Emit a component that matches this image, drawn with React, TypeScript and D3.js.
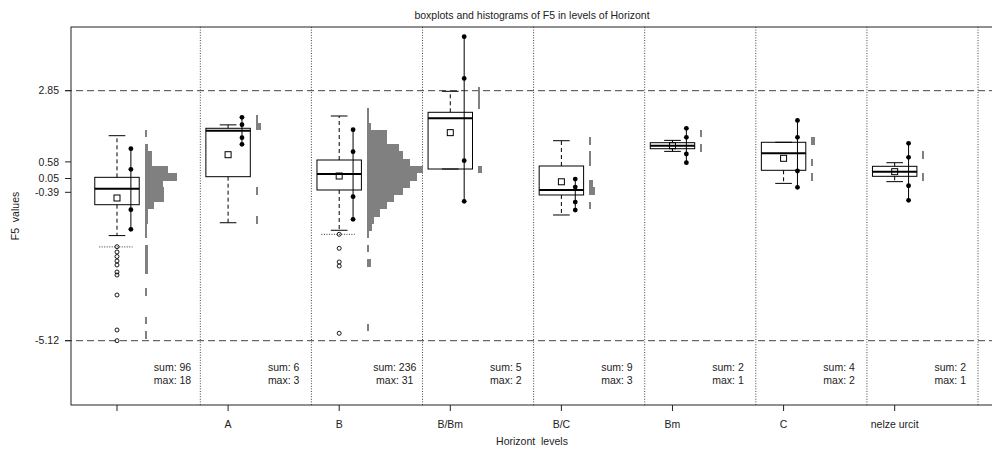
import React from 'react';
import * as d3 from 'd3';

const categories = ["", "A", "B", "B/Bm", "B/C", "Bm", "C", "nelze urcit"];
const lowerWhisker = [-1.77, -1.36, -1.6, 0.353, -1.113, 0.915, -0.105, -0.05];
const q1 = [-0.785, 0.108, -0.316, 0.353, -0.475, 1.0, 0.312, 0.12];
const medians = [-0.275, 1.574, 0.194, 1.97, -0.316, 1.096, 0.854, 0.268];
const q3 = [0.088, 1.651, 0.64, 2.161, 0.449, 1.192, 1.205, 0.439];
const upperWhisker = [1.415, 1.76, 2.043, 2.83, 1.255, 1.266, 1.205, 0.554];
const means = [-0.571, 0.809, 0.13, 1.512, -0.054, 1.096, 0.694, 0.268];
const lowerFence: (number | null)[] = [-2.13, null, -1.73, null, null, null, null, null];

const outliers0 = [-2.124, -2.293, -2.437, -2.58, -2.707, -2.93, -3.026, -3.663, -4.779, -5.12];
const outliersB = [-1.728, -2.175, -2.611, -2.739, -4.884];
const outliers = [outliers0, [], outliersB, [], [], [], [], []];

const dots0 = [1.0, 0.344, -0.944, -1.569];
const dotsA = [2.001, 1.766, 1.351, 1.14];
const dotsB = [1.606, 0.905, -0.53, -1.25];
const dotsBBm = [4.57, 3.24, 0.62, -0.677];
const dotsBC = [0.032, -0.223, -0.7, -0.956];
const dotsBm = [1.651, 1.364, 0.832, 0.554];
const dotsC = [1.902, 1.364, 0.29, -0.23];
const dotsN = [1.173, 0.727, -0.18, -0.645];
const dots = [dots0, dotsA, dotsB, dotsBBm, dotsBC, dotsBm, dotsC, dotsN];

// histogram: [bin index k (bin = [k*binWidth, (k+1)*binWidth]), count]
const binWidth = 0.229;
const hist0 = [[6, 1], [4, 2], [3, 4], [2, 4], [1, 13], [0, 18], [-1, 10], [-2, 11], [-3, 11], [-4, 5], [-5, 2], [-6, 2], [-7, 1], [-8, 1], [-10, 2], [-11, 2], [-12, 2], [-13, 2], [-16, 1], [-20, 1], [-22, 1]];
const histA = [[8, 1], [7, 3], [-2, 1], [-6, 1]];
const histB = [[9, 1], [8, 1], [7, 2], [6, 11], [5, 11], [4, 18], [3, 20], [2, 24], [1, 31], [0, 28], [-1, 24], [-2, 20], [-3, 15], [-4, 11], [-5, 7], [-6, 4], [-7, 3], [-8, 1], [-10, 1], [-12, 2], [-21, 1]];
const histBBm = [[12, 1], [11, 1], [10, 1], [1, 2]];
const histBC = [[5, 1], [3, 1], [2, 1], [-1, 2], [-2, 3], [-4, 1]];
const histBm = [[6, 1], [4, 1]];
const histC = [[5, 2], [2, 1], [0, 1]];
const histN = [[3, 1], [0, 1]];
const histograms = [hist0, histA, histB, histBBm, histBC, histBm, histC, histN];

const yTicks = [2.85, 0.58, 0.05, -0.39, -5.12];
const refLines = [2.85, -5.12];

const W = 992, H = 450;
const left = 71, top = 27, bottom = 405, right = 993;
const FONT = '"Liberation Sans", Arial, sans-serif';
const FS = 10.5;

export default function App() {
  const x = d3.scaleLinear().domain([-0.414, 7.885]).range([left, right]);
  const y = d3.scaleLinear().domain([-7.17, 4.88]).range([bottom, top]);
  const maxAll = d3.max(histograms.flat(), (d: number[]) => d[1]) as number;
  const countPx = (x(0.5) - x(0)) / maxAll;

  return (
    <svg width={W} height={H} style={{ position: 'absolute', left: 0, top: 0, background: '#fff' }}
      fontFamily={FONT} fontSize={FS}>
      <rect x={0} y={0} width={W} height={H} fill="#fff" />
      <text x={(left + right) / 2} y={19} textAnchor="middle" fill="#222">
        boxplots and histograms of F5 in levels of Horizont
      </text>
      {/* separators */}
      {categories.map((_, i) => (
        <line key={'sep' + i} x1={x(i + 0.75)} x2={x(i + 0.75)} y1={top} y2={bottom}
          stroke="#444" strokeWidth={1} strokeDasharray="1,1.6" />
      ))}
      {/* reference dashed lines */}
      {refLines.map((v, i) => (
        <line key={'ref' + i} x1={left - 6} x2={right} y1={y(v)} y2={y(v)}
          stroke="#444" strokeWidth={1} strokeDasharray="7,4" />
      ))}
      {/* groups */}
      {categories.map((c, i) => {
        const cx = x(i);
        const bx0 = x(i - 0.2), bx1 = x(i + 0.2);
        const cap0 = x(i - 0.075), cap1 = x(i + 0.075);
        const dx = x(i + 0.125);
        const hx = x(i + 0.25);
        const hist = histograms[i];
        const sum = d3.sum(hist, d => d[1]);
        const mx = d3.max(hist, d => d[1]);
        const dv = dots[i];
        const f = lowerFence[i];
        return (
          <g key={'g' + i}>
            {/* histogram */}
            <g shapeRendering="crispEdges">
              {hist.map(([k, n], j) => (
                <rect key={'h' + j} x={hx} width={n * countPx}
                  y={y((k + 1) * binWidth)} height={y(k * binWidth) - y((k + 1) * binWidth) + 0.5}
                  fill="#808080" />
              ))}
            </g>
            {/* whiskers */}
            <line x1={cx} x2={cx} y1={y(q3[i])} y2={y(upperWhisker[i])} stroke="#000" strokeDasharray="4,3" />
            <line x1={cx} x2={cx} y1={y(q1[i])} y2={y(lowerWhisker[i])} stroke="#000" strokeDasharray="4,3" />
            <line x1={cap0} x2={cap1} y1={y(upperWhisker[i])} y2={y(upperWhisker[i])} stroke="#000" />
            <line x1={cap0} x2={cap1} y1={y(lowerWhisker[i])} y2={y(lowerWhisker[i])} stroke="#000" />
            {/* box */}
            <rect x={bx0} y={y(q3[i])} width={bx1 - bx0} height={y(q1[i]) - y(q3[i])}
              fill="none" stroke="#000" strokeWidth={1} />
            <line x1={bx0} x2={bx1} y1={y(medians[i])} y2={y(medians[i])} stroke="#000" strokeWidth={2} />
            <rect x={cx - 3} y={y(means[i]) - 3} width={6} height={6} fill="none" stroke="#000" strokeWidth={1} />
            {/* lower fence */}
            {f !== null && (
              <line x1={x(i - 0.16)} x2={x(i + 0.14)} y1={y(f)} y2={y(f)} stroke="#333" strokeDasharray="1,1.5" />
            )}
            {/* outliers */}
            {outliers[i].map((v, j) => (
              <circle key={'o' + j} cx={cx} cy={y(v)} r={2} fill="none" stroke="#000" strokeWidth={0.9} />
            ))}
            {/* dots line */}
            <line x1={dx} x2={dx} y1={y(d3.max(dv) as number)} y2={y(d3.min(dv) as number)} stroke="#000" strokeWidth={1} />
            {dv.map((v, j) => (
              <circle key={'d' + j} cx={dx} cy={y(v)} r={2.4} fill="#000" />
            ))}
            {/* sum / max */}
            <text x={x(i + 0.5)} y={371} textAnchor="middle" fill="#222">sum: {sum}</text>
            <text x={x(i + 0.5)} y={384} textAnchor="middle" fill="#222">max: {mx}</text>
            {/* x tick */}
            <line x1={cx} x2={cx} y1={bottom} y2={bottom + 6} stroke="#222" />
            <text x={cx} y={428} textAnchor="middle" fill="#222">{c}</text>
          </g>
        );
      })}
      {/* y axis ticks */}
      {yTicks.map((v, i) => (
        <g key={'yt' + i}>
          <line x1={left - 6} x2={left} y1={y(v)} y2={y(v)} stroke="#222" />
          <text x={59} y={y(v)} dy="0.35em" textAnchor="end" fill="#222">{v.toFixed(2)}</text>
        </g>
      ))}
      {/* frame */}
      <rect x={left} y={top} width={right - left} height={bottom - top} fill="none" stroke="#222" strokeWidth={1} />
      <text x={(left + right) / 2} y={445} textAnchor="middle" fill="#222" style={{ whiteSpace: 'pre' }}>Horizont  levels</text>
      <text transform={`translate(19,${(top + bottom) / 2}) rotate(-90)`} textAnchor="middle" fill="#222"
        style={{ whiteSpace: 'pre' }}>F5  values</text>
    </svg>
  );
}
